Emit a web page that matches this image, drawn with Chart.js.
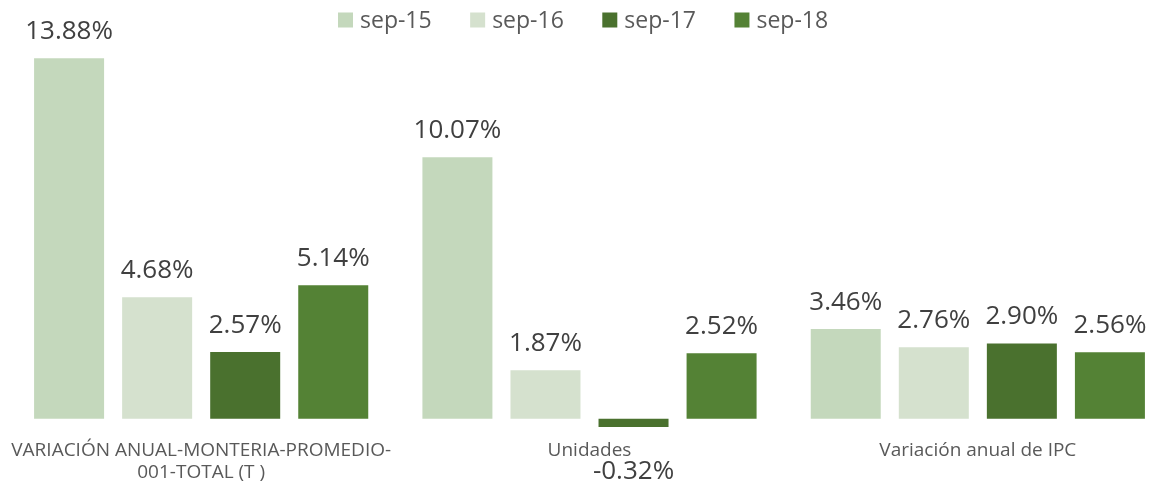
<!DOCTYPE html>
<html>
<head>
<meta charset="utf-8">
<script src="https://cdn.jsdelivr.net/npm/chart.js@4"></script>
<style>
  html, body { margin: 0; padding: 0; background: #fff; overflow: hidden; }
  #wrap { width: 1172px; height: 484px; }
</style>
</head>
<body>
<div id="wrap"><canvas id="chart"></canvas></div>
<script>
/* ===== Data ===== */
const categories = [
  ["VARIACIÓN ANUAL-MONTERIA-PROMEDIO-", "001-TOTAL (T )"],
  "Unidades",
  "Variación anual de IPC"
];
const seriesNames = ["sep-15", "sep-16", "sep-17", "sep-18"];
const sep15 = [13.88, 10.07, 3.46];
const sep16 = [4.68, 1.87, 2.76];
const sep17 = [2.57, -0.32, 2.90];
const sep18 = [5.14, 2.52, 2.56];
const seriesColors = ["#C4D8BC", "#D5E1CE", "#4A712E", "#548235"];

/* ===== Value labels ===== */
const valueLabels = {
  id: "valueLabels",
  afterDatasetsDraw(chart) {
    const ctx = chart.ctx;
    ctx.save();
    ctx.font = "26px 'Open Sans'";
    ctx.fillStyle = "#404040";
    ctx.textAlign = "center";
    chart.data.datasets.forEach((ds, i) => {
      chart.getDatasetMeta(i).data.forEach((bar, j) => {
        const v = ds.data[j];
        const txt = v.toFixed(2) + "%";
        if (v >= 0) {
          ctx.textBaseline = "alphabetic";
          ctx.fillText(txt, bar.x, bar.y - 19);
        } else {
          ctx.textBaseline = "middle";
          ctx.fillText(txt, bar.x, bar.y + 44);
        }
      });
    });
    ctx.restore();
  }
};

/* ===== Legend drawn by hand (top row) ===== */
const topLegend = {
  id: "topLegend",
  afterDraw(chart) {
    const ctx = chart.ctx;
    ctx.save();
    ctx.font = "23px 'Open Sans'";
    ctx.textBaseline = "middle";
    ctx.textAlign = "left";
    let x = 338;
    const y = 20;
    chart.data.datasets.forEach(ds => {
      ctx.fillStyle = ds.backgroundColor;
      ctx.fillRect(x, y - 7.5, 15, 15);
      ctx.fillStyle = "#595959";
      ctx.fillText(ds.label, x + 22, y + 1);
      x += 22 + ctx.measureText(ds.label).width + 38.5;
    });
    ctx.restore();
  }
};

const allSeries = [sep15, sep16, sep17, sep18];

new Chart(document.getElementById("chart"), {
  type: "bar",
  data: {
    labels: categories,
    datasets: allSeries.map((d, i) => ({
      label: seriesNames[i],
      data: d,
      backgroundColor: seriesColors[i],
      borderWidth: 0,
      barPercentage: 0.795,
      categoryPercentage: 0.907
    }))
  },
  options: {
    responsive: true,
    maintainAspectRatio: false,
    animation: false,
    layout: { padding: { left: 7, right: 0, top: 50, bottom: -3 } },
    plugins: {
      legend: { display: false },
      tooltip: { enabled: false }
    },
    scales: {
      x: {
        grid: { display: false },
        border: { display: false },
        ticks: {
          color: "#595959",
          padding: 3,
          maxRotation: 0,
          autoSkip: false,
          font: { family: "'Open Sans'", size: 19, lineHeight: 1.18 }
        }
      },
      y: {
        min: -0.36,
        max: 14.2,
        border: { display: false },
        ticks: { display: false },
        grid: {
          drawTicks: false,
          lineWidth: 2,
          color: c => (c.tick && c.tick.value === 0 ? "#D9D9D9" : "rgba(0,0,0,0)")
        }
      }
    }
  },
  plugins: [valueLabels, topLegend]
});
</script>
</body>
</html>
